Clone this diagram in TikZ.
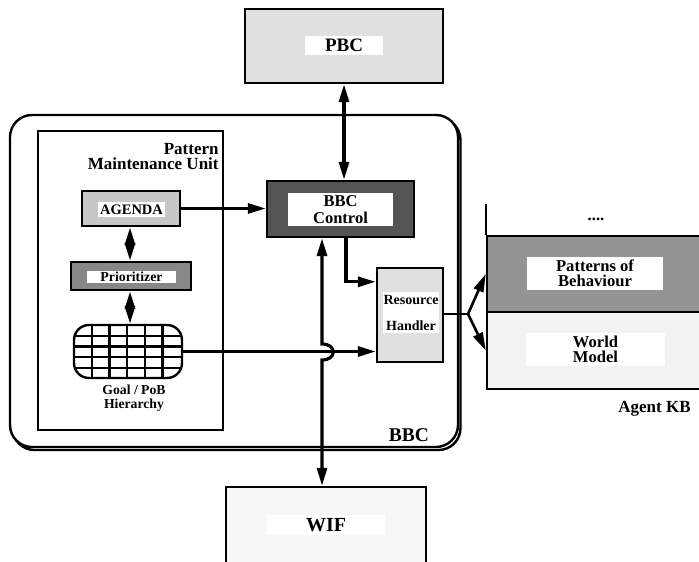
\documentclass[tikz,border=0pt]{standalone}
\usepackage{fontspec}
\setmainfont{Liberation Serif}
\usetikzlibrary{calc,arrows.meta}
\tikzset{
	box/.style={draw, line width=1.2pt, inner sep=0pt},
	tag/.style={fill=white, inner sep=0pt, align=center},
	arr/.style={line width=1.6pt, -{Triangle[length=9pt,width=5pt]}},
	darr/.style={line width=1.6pt, {Triangle[length=9pt,width=5pt]}-{Triangle[length=9pt,width=5pt]}},
}
\newcommand{\fs}[2]{\fontsize{#1}{#2}\selectfont\bfseries}

\begin{document}
\begin{tikzpicture}[x=0.5pt, y=-0.5pt]
			%%%%% START %%%%%
			\useasboundingbox (0,0) rectangle (699,561);
			
			% outer BBC frame with its shadow
			\draw[line width=1.2pt, rounded corners=11pt] (12.5,118) rectangle (460.5,450);
			\draw[line width=1.2pt, fill=white, rounded corners=11pt] (10,115) rectangle (458,447);
			\node[font=\fs{9.75}{11}] (bbc-l) at (409,435) {BBC};
			
			% pattern maintenance unit
			\draw[line width=1.2pt] (38,131) rectangle (223,430);
			\node[anchor=north east, align=right, font=\fs{8.5}{7.5}, inner sep=0pt] (pmu-l) at (219,143) {Pattern\\Maintenance Unit};
			
			\node[box, fill=black!22, minimum width=49pt, minimum height=17.5pt] (agenda) at (131,208.5) {};
			\node[tag, minimum width=33.5pt, minimum height=7.5pt, font=\fs{7.25}{8}] (agenda-l) at (131.5,209.5) {AGENDA};
			
			\node[box, fill=black!47, minimum width=60pt, minimum height=14pt] (prio) at (131,276) {};
			\node[tag, minimum width=44.5pt, minimum height=6pt, font=\fs{6.9}{7}] (prio-l) at (131.5,277) {Prioritizer};
			
			\node[box, rounded corners=7.5pt, minimum width=54pt, minimum height=26.5pt,
				path picture={
					\foreach \i in {1,...,5}
						\draw[line width=1.1pt] ($(path picture bounding box.north west)+(\i*17.7,0)$) -- ++(0,60);
					\foreach \j in {1,...,4}
						\draw[line width=1.1pt] ($(path picture bounding box.north west)+(0,\j*10.7)$) -- ++(120,0);
				}] (goal) at (128,351.5) {};
			\node[align=center, font=\fs{6.85}{7}, inner sep=0pt] (goal-l) at (134,398) {Goal / PoB\\Hierarchy};
			
			% control and resource handler
			\node[box, fill=black!67, minimum width=73.5pt, minimum height=28pt] (ctrl) at (340.5,209) {};
			\node[tag, minimum width=52.5pt, minimum height=16.5pt, font=\fs{8.25}{8.5}] (ctrl-l) at (340.5,209.5) {BBC\\Control};
			
			\node[box, fill=black!12, minimum width=33pt, minimum height=47pt] (res) at (410,315) {};
			\node[tag, minimum width=28pt, minimum height=20.5pt, font=\fs{7}{13}] (res-l) at (411,312.5) {Resource\\Handler};
			
			% PBC and WIF
			\node[box, fill=black!12, minimum width=99pt, minimum height=37pt] (pbc) at (344,46) {};
			\node[tag, minimum width=39pt, minimum height=9.5pt, font=\fs{9.5}{10}] (pbc-l) at (344,45.5) {PBC};
			
			\node[box, fill=black!3, minimum width=100pt, minimum height=38pt] (wif) at (326,525) {};
			\node[tag, minimum width=59pt, minimum height=10pt, font=\fs{10}{10}] (wif-l) at (326,525) {WIF};
			
			% agent KB
			\node[box, fill=black!42, minimum width=109pt, minimum height=38pt] (pob) at (596,274) {};
			\node[tag, minimum width=68pt, minimum height=16.5pt, font=\fs{8.3}{7.5}] (pob-l) at (595,273.5) {Patterns of\\Behaviour};
			\node[box, fill=black!5, minimum width=109pt, minimum height=38.5pt] (world) at (596,350.5) {};
			\node[tag, minimum width=69.5pt, minimum height=16.5pt, font=\fs{8.3}{7.5}] (world-l) at (595.5,349.5) {World\\Model};
			\draw[line width=1.2pt] (pob.north west) -- ++(0,-31);
			\node[font=\fs{8.3}{9}] (dots) at (596,219) {....};
			\node[anchor=west, font=\fs{8.5}{9}, inner sep=0pt] (kb-l) at (618,409) {Agent KB};
			
			% connectors
			\coordinate (hop) at (322,352);
			\coordinate (split) at (468,314);
			
			\draw[darr] (pbc.south) -- (pbc.south |- ctrl.north);
			\draw[arr] (agenda.east) -- (agenda.east -| ctrl.west);
			\draw[darr] (agenda.south -| 130,0) -- (prio.north -| 130,0);
			\draw[darr] (prio.south -| 130,0) -- (goal.north -| 130,0);
			\draw[arr] (goal.east) -- (goal.east -| res.west);
			\draw[darr] (wif.north -| hop) -- ($(hop)+(0,8)$) .. controls +(15,0) and +(15,0) .. ($(hop)+(0,-8)$) -- (ctrl.south -| hop);
			\draw[arr] ($(ctrl.south)+(5.5,0)$) |- ($(res.north west)+(0,15)$);
			\draw[line width=1pt] (res.east |- split) -- (split);
			\draw[arr, line width=1.3pt] (split) -- (pob.west);
			\draw[arr, line width=1.3pt] (split) -- (world.west);
			
			%%%%% END %%%%%
\end{tikzpicture}
\end{document}
